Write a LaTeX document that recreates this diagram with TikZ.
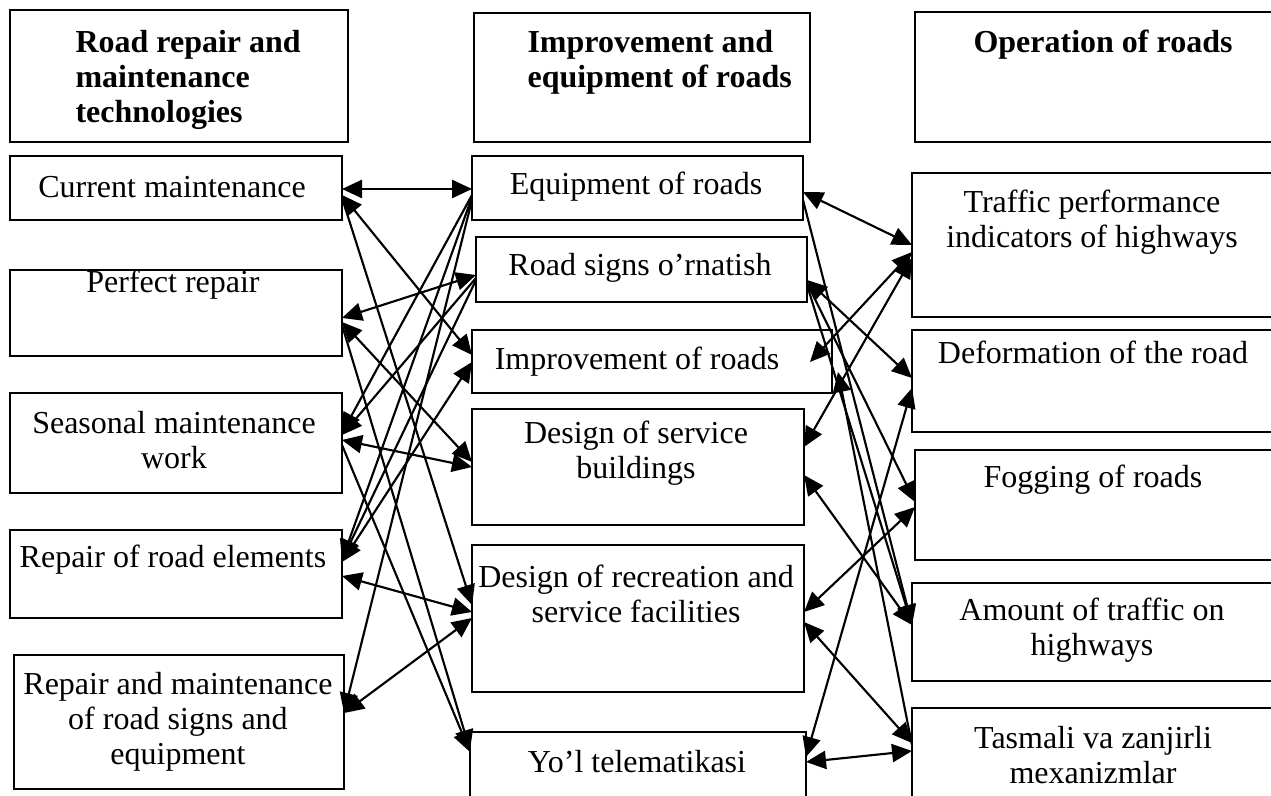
\documentclass[tikz,border=0pt]{standalone}
\usepackage{fontspec}
\setmainfont{Liberation Serif}
\usetikzlibrary{arrows.meta,calc,fit}
\begin{document}
\begin{tikzpicture}[x=0.375pt,y=-0.375pt,
  box/.style={draw, line width=0.8pt, inner sep=0pt, outer sep=0pt},
  txt/.style={font=\fontsize{12}{13.2}\selectfont, align=center, inner sep=0pt},
  htxt/.style={font=\fontsize{12}{13.2}\selectfont\bfseries, align=left, inner sep=0pt},
  con/.style={line width=0.8pt},
  tip/.tip={Triangle[length=7.5pt,width=6.8pt]},
  both/.style={con, tip-tip},
  one/.style={con, -tip}]
\useasboundingbox (0,0) rectangle (1271,796);
\clip (0,0) rectangle (1271,796);

% header boxes
\node[box, fit={(10,10) (348,142)}] (h1) {};
\node[box, fit={(474,13) (810,142)}] (h2) {};
\node[box, fit={(915,12) (1290,142)}] (h3) {};
\node[htxt, anchor=west] (h1t) at (75,80) {Road repair and\\maintenance\\technologies};
\node[htxt, anchor=west] (h2t) at (527,62) {Improvement and\\equipment of roads};
\node[htxt] (h3t) at (1103,45) {Operation of roads};

% left column
\node[box, fit={(10,156) (342,220)}] (cm) {};
\node[box, fit={(10,270) (342,356)}] (pr) {};
\node[box, fit={(10,393) (342,493)}] (se) {};
\node[box, fit={(10,530) (342,618)}] (rre) {};
\node[box, fit={(14,655) (344,789)}] (rms) {};
\node[txt] (cmt) at (172,187) {Current maintenance};
\node[txt] (prt) at (173,285) {Perfect repair};
\node[txt] (set) at (174,440) {Seasonal maintenance\\work};
\node[txt] (rret) at (173,560) {Repair of road elements};
\node[txt] (rmst) at (178,722) {Repair and maintenance\\of road signs and\\equipment};

% middle column
\node[box, fit={(472,156) (803,220)}] (eq) {};
\node[box, fit={(476,237) (807,302)}] (rs) {};
\node[box, fit={(472,330) (832,393)}] (imp) {};
\node[box, fit={(472,409) (804,525)}] (dsb) {};
\node[box, fit={(472,545) (804,692)}] (rec) {};
\node[box, fit={(470,732) (806,810)}] (yt) {};
\node[txt] (eqt) at (636,187) {Equipment of roads};
\node[txt] (rst) at (640,268) {Road signs o’rnatish};
\node[txt] (impt) at (637,362) {Improvement of roads};
\node[txt] (dsbt) at (636,453) {Design of service\\buildings};
\node[txt] (rect) at (636,594) {Design of recreation and\\service facilities};
\node[txt] (ytt) at (637,762) {Yo’l telematikasi};

% right column
\node[box, fit={(912,173) (1290,317)}] (tpi) {};
\node[box, fit={(912,330) (1290,432)}] (def) {};
\node[box, fit={(915,450) (1290,560)}] (fog) {};
\node[box, fit={(912,583) (1290,681)}] (amt) {};
\node[box, fit={(912,708) (1290,810)}] (tz) {};
\node[txt] (tpit) at (1092,222) {Traffic performance\\indicators of highways};
\node[txt] (deft) at (1093,352) {Deformation of the road};
\node[txt] (fogt) at (1093,480) {Fogging of roads};
\node[txt] (amtt) at (1092,630) {Amount of traffic on\\highways};
\node[txt] (tzt) at (1093,755) {Tasmali va zanjirli\\mexanizmlar};

\coordinate (impin) at (810,362);
\coordinate (impout) at (838,372);

% left gap connectors
\draw[both] (cm.east |- 0,189) -- (eq.west |- 0,189);
\draw[both] (cm.east |- 0,195) -- (imp.west |- 0,355);
\draw[one]  (cm.east |- 0,198) -- (rec.west |- 0,605);
\draw[both] (pr.east |- 0,318) -- (rs.west |- 0,275);
\draw[both] (pr.east |- 0,322) -- (dsb.west |- 0,462);
\draw[one]  (pr.east |- 0,325) -- (yt.west |- 0,750);
\draw[both] (se.east |- 0,440) -- (dsb.west |- 0,467);
\draw[one]  (se.east |- 0,445) -- (yt.west |- 0,752);
\draw[one]  (eq.west |- 0,195) -- (se.east |- 0,433);
\draw[one]  (rs.west |- 0,278) -- (se.east |- 0,435);
\draw[one]  (eq.west |- 0,197) -- (rre.east |- 0,560);
\draw[one]  (rs.west |- 0,280) -- (rre.east |- 0,560);
\draw[both] (imp.west |- 0,362) -- (rre.east |- 0,562);
\draw[both] (rre.east |- 0,576) -- (rec.west |- 0,612);
\draw[both] (rms.east |- 0,713) -- (rec.west |- 0,618);
\draw[one]  (eq.west |- 0,200) -- (rms.east |- 0,713);

% right gap connectors
\draw[both] (eq.east |- 0,192) -- (tpi.west |- 0,245);
\draw[both] (tpi.west |- 0,252) -- (impin);
\draw[both] (tpi.west |- 0,258) -- (dsb.east |- 0,447);
\draw[both] (rs.east |- 0,280) -- (def.west |- 0,378);
\draw[one]  (rs.east |- 0,283) -- (fog.west |- 0,502);
\draw[one]  (rs.east |- 0,285) -- (amt.west |- 0,625);
\draw[one]  (eq.east |- 0,200) -- (amt.west |- 0,625);
\draw[one]  (tz.west |- 0,745) -- (impout);
\draw[both] (yt.east |- 0,757) -- (def.west |- 0,388);
\draw[both] (rec.east |- 0,612) -- (fog.west |- 0,507);
\draw[both] (rec.east |- 0,622) -- (tz.west |- 0,743);
\draw[both] (dsb.east |- 0,475) -- (amt.west |- 0,625);
\draw[both] (yt.east |- 0,762) -- (tz.west |- 0,751);
\end{tikzpicture}
\end{document}
